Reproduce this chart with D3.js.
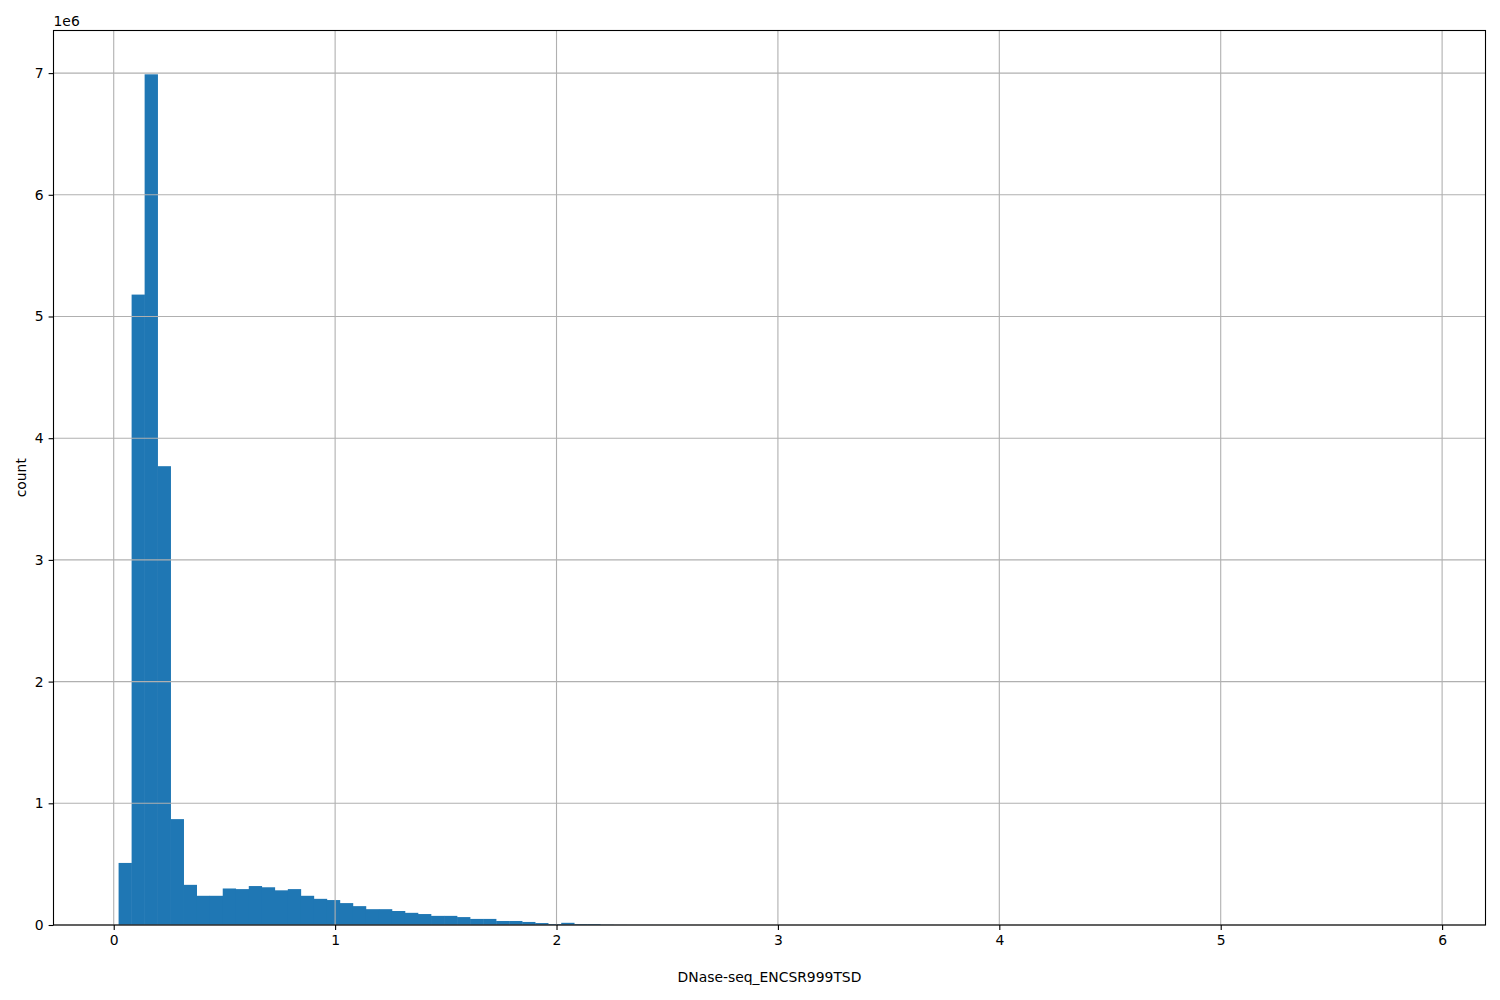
<!DOCTYPE html>
<html><head><meta charset="utf-8">
<script src="https://cdn.jsdelivr.net/npm/d3@7"></script>
<style>body{margin:0;background:#fff}text{font-family:"DejaVu Sans",sans-serif}</style>
</head><body>
<svg id="c" width="1500" height="1000"></svg>
<script>
const binMin = 0.022;
const binMax = 5.902;
const counts = [
 510000, 5180000, 6990000, 3770000, 870000, 330000, 240000, 240000, 300000, 295000,
 320000, 310000, 285000, 295000, 240000, 215000, 205000, 180000, 155000, 130000,
 130000, 115000, 100000, 90000, 75000, 75000, 65000, 50000, 50000, 33000,
 33000, 25000, 16000, 8000, 18000, 8000, 8000, 3000, 1500, 1000,
 800, 600, 500, 400, 300, 250, 200, 150, 120, 100,
 80, 60, 50, 40, 30, 25, 20, 15, 12, 10,
 8, 6, 5, 4, 3, 3, 2, 2, 1, 1,
 1, 1, 1, 0, 1, 0, 0, 1, 0, 0,
 0, 0, 1, 0, 0, 0, 0, 0, 0, 0,
 0, 0, 0, 0, 0, 0, 0, 0, 0, 1
];
const xTicks = [0, 1, 2, 3, 4, 5, 6];
const yTicks = [0, 1, 2, 3, 4, 5, 6, 7];
const xLabel = "DNase-seq_ENCSR999TSD";
const yLabel = "count";

const L = 53.5, R = 1485.5, T = 30.5, B = 925;
const svg = d3.select("#c");
const span = binMax - binMin;
const x = d3.scaleLinear().domain([binMin - span*0.05, binMax + span*0.05]).range([L, R]);
const yMax = 6990000 * 1.05;
const y = d3.scaleLinear().domain([0, 7350000]).range([B, T]);
const w = span / counts.length;
const bins = counts.map((c, i) => ({x0: binMin + i*w, x1: binMin + (i+1)*w, c}));

svg.append("g").selectAll("rect").data(bins).join("rect")
  .attr("x", d => x(d.x0)).attr("width", d => x(d.x1) - x(d.x0) + 0.3)
  .attr("y", d => y(d.c)).attr("height", d => B - y(d.c))
  .attr("fill", "#1f77b4");

// grid
const g = svg.append("g");
g.selectAll("line.gx").data(xTicks).join("line")
  .attr("x1", d => x(d)).attr("x2", d => x(d)).attr("y1", T).attr("y2", B)
  .attr("stroke", "#b0b0b0").attr("stroke-width", 1.1);
g.selectAll("line.gy").data(yTicks).join("line")
  .attr("y1", d => y(d*1e6)).attr("y2", d => y(d*1e6)).attr("x1", L).attr("x2", R)
  .attr("stroke", "#b0b0b0").attr("stroke-width", 1.1);

// axes
const xAxis = d3.axisBottom(x).tickValues(xTicks).tickSize(4.9).tickPadding(4.9).tickFormat(d3.format("d"));
const gx = svg.append("g").attr("transform", `translate(0,${B})`).call(xAxis);
const yAxis = d3.axisLeft(y).tickValues(yTicks.map(v => v*1e6)).tickSize(4.9).tickPadding(4.9).tickFormat(d => String(d/1e6));
const gy = svg.append("g").attr("transform", `translate(${L},0)`).call(yAxis);
[gx, gy].forEach(a => {
  a.select(".domain").remove();
  a.selectAll(".tick line").attr("stroke", "#000").attr("stroke-width", 1.1);
  a.selectAll(".tick text").attr("font-size", "13.9px").attr("fill", "#000").attr("font-family", "DejaVu Sans");
});

// spines
svg.append("rect").attr("x", L).attr("y", T).attr("width", R - L).attr("height", B - T)
  .attr("fill", "none").attr("stroke", "#000").attr("stroke-width", 1.1);

svg.append("text").attr("x", L).attr("y", 26).attr("font-size", "13.9px").text("1e6");
svg.append("text").attr("x", (L+R)/2).attr("y", 982).attr("text-anchor", "middle").attr("font-size", "13.9px").text(xLabel);
svg.append("text").attr("transform", `translate(26,${(T+B)/2}) rotate(-90)`).attr("text-anchor", "middle").attr("font-size", "13.9px").text(yLabel);
</script>
</body></html>
